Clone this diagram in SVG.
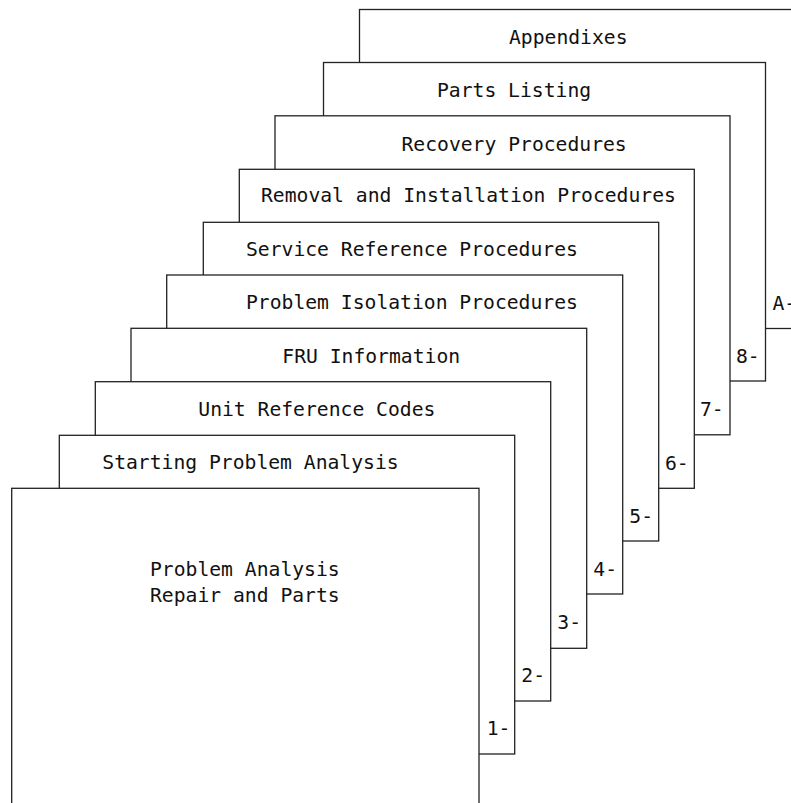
<svg xmlns="http://www.w3.org/2000/svg" width="791" height="803" viewBox="0 0 791 803">
<style>
.pg{fill:#fff;stroke:#222;stroke-width:1.3}
text{font-family:"DejaVu Sans Mono","Liberation Mono",monospace;font-size:19.7px;fill:#111}
</style>
<rect x="0" y="0" width="791" height="803" fill="#fff"/>
<g id="pageA">
<rect class="pg" x="359.5" y="9.5" width="450" height="319"/>
<text x="509" y="44">Appendixes</text>
<text x="772.5" y="310">A-</text>
</g>
<g id="page8">
<rect class="pg" x="323.5" y="62.5" width="442" height="318.5"/>
<text x="437" y="96.5">Parts Listing</text>
<text x="736" y="362.5">8-</text>
</g>
<g id="page7">
<rect class="pg" x="275" y="115.8" width="455" height="319"/>
<text x="401.5" y="150.5">Recovery Procedures</text>
<text x="700" y="416">7-</text>
</g>
<g id="page6">
<rect class="pg" x="239.3" y="169.3" width="455" height="319"/>
<text x="261" y="202">Removal and Installation Procedures</text>
<text x="665" y="470">6-</text>
</g>
<g id="page5">
<rect class="pg" x="203.3" y="222.3" width="455.4" height="318.7"/>
<text x="246" y="255.7">Service Reference Procedures</text>
<text x="629.3" y="522.7">5-</text>
</g>
<g id="page4">
<rect class="pg" x="166.7" y="275" width="456" height="319"/>
<text x="246" y="309.3">Problem Isolation Procedures</text>
<text x="593.3" y="576">4-</text>
</g>
<g id="page3">
<rect class="pg" x="131" y="328.3" width="455.7" height="320"/>
<text x="282.3" y="362.7">FRU Information</text>
<text x="557.3" y="629">3-</text>
</g>
<g id="page2">
<rect class="pg" x="95.3" y="381.7" width="455.4" height="319.3"/>
<text x="198.3" y="416">Unit Reference Codes</text>
<text x="521.3" y="682.3">2-</text>
</g>
<g id="page1">
<rect class="pg" x="59.3" y="435.3" width="455.4" height="318.7"/>
<text x="102.3" y="469.3">Starting Problem Analysis</text>
<text x="486.7" y="735">1-</text>
</g>
<g id="main">
<rect class="pg" x="11.7" y="488.3" width="467.3" height="330"/>
<text x="150" y="576">Problem Analysis</text>
<text x="150" y="602.3">Repair and Parts</text>
</g>
<g id="connectors"/>
</svg>
